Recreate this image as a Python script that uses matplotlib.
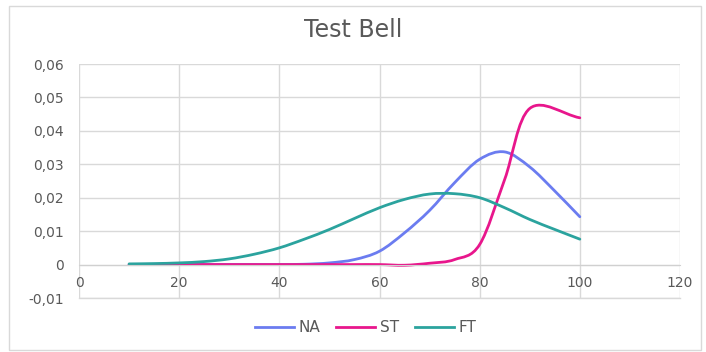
import matplotlib
matplotlib.use("Agg")
import matplotlib.pyplot as plt
from matplotlib.path import Path
from matplotlib.patches import PathPatch, Rectangle
from matplotlib.lines import Line2D
import numpy as np

plt.rcParams['font.family'] = ['DejaVu Sans']

x_vals = [10, 15, 20, 25, 30, 35, 40, 45, 50, 55, 60, 65, 70, 75, 80, 85, 90, 95, 100]
na_vals = [0.0, 0.0, 0.0, 0.0, 0.0, 0.0, 0.0, 0.0001, 0.0005, 0.0015, 0.0040, 0.0095,
           0.0162, 0.0245, 0.0315, 0.0337, 0.0292, 0.0220, 0.0143]
ft_vals = [0.0002, 0.0003, 0.0005, 0.0009, 0.0017, 0.0031, 0.0050, 0.0076, 0.0105, 0.0138,
           0.0170, 0.0195, 0.0211, 0.0212, 0.0200, 0.0170, 0.0135, 0.0105, 0.0076]
st_x = [10, 15, 20, 25, 30, 35, 40, 45, 50, 55, 60, 65, 70, 75, 80, 85, 90, 100]
st_vals = [0.0, 0.0, 0.0, 0.0, 0.0, 0.0, 0.0, 0.0, 0.0, 0.0, 0.0, -0.0002,
           0.0004, 0.0015, 0.0060, 0.0255, 0.0467, 0.0439]

series = [("NA", x_vals, na_vals, "#6B7CF0"),
          ("ST", st_x, st_vals, "#E8168C"),
          ("FT", x_vals, ft_vals, "#2BA39E")]

x_ticks = [0, 20, 40, 60, 80, 100, 120]
y_ticks = [-0.01, 0, 0.01, 0.02, 0.03, 0.04, 0.05, 0.06]
y_labels = ["-0,01", "0", "0,01", "0,02", "0,03", "0,04", "0,05", "0,06"]

W, H = 706, 352
fig = plt.figure(figsize=(W / 100, H / 100), dpi=100)
fig.patch.set_facecolor("white")
fig.patches.append(Rectangle((9 / W, 2 / H), 692 / W, 344 / H, transform=fig.transFigure,
                             fill=False, edgecolor="#d9d9d9", linewidth=1.0))

ax = fig.add_axes([79 / W, 1 - 298 / H, 601 / W, 234 / H])
ax.set_xlim(0, 120)
ax.set_ylim(-0.01, 0.06)
ax.set_xticks(x_ticks)
ax.set_yticks(y_ticks)
ax.set_yticklabels(y_labels)
ax.grid(True, color="#d9d9d9", linewidth=1.0)
ax.set_axisbelow(True)
ax.axhline(y_ticks[0], color="#d9d9d9", linewidth=1.0, clip_on=False, zorder=0.5)
for s in ["top", "right", "left"]:
    ax.spines[s].set_visible(False)
ax.spines["bottom"].set_position(("data", 0))
ax.spines["bottom"].set_color("#d0d0d0")
ax.tick_params(length=0, labelsize=10, labelcolor="#595959")
ax.tick_params(axis="x", pad=8)
ax.tick_params(axis="y", pad=11)


def smooth_path(xs, ys):
    pts = np.column_stack([np.asarray(xs, float), np.asarray(ys, float)])
    n = len(pts)
    verts = [pts[0]]
    codes = [Path.MOVETO]
    for i in range(n - 1):
        p1 = pts[i]
        p2 = pts[i + 1]
        p0 = pts[i - 1] if i > 0 else 2 * p1 - p2
        p3 = pts[i + 2] if i + 2 < n else 2 * p2 - p1
        c1 = p1 + (p2 - p0) / 6.0
        c2 = p2 - (p3 - p1) / 6.0
        verts += [c1, c2, p2]
        codes += [Path.CURVE4] * 3
    return Path(verts, codes)


handles = []
for name, xs, vals, col in series:
    patch = PathPatch(smooth_path(xs, vals), facecolor="none", edgecolor=col,
                      linewidth=2.0, capstyle="round", joinstyle="round")
    ax.add_patch(patch)
    handles.append(Line2D([], [], color=col, linewidth=2.0, label=name))

fig.text(0.5, 1 - 30 / H, "Test Bell", ha="center", va="center", fontsize=17, color="#595959")

fig.legend(handles=handles, loc="center", bbox_to_anchor=(365.5 / W, 1 - 328 / H), ncol=3,
           frameon=False, fontsize=11, labelcolor="#595959", handlelength=2.55,
           handletextpad=0.3, columnspacing=1.05)

fig.savefig("out.png", dpi=100, facecolor="white")
